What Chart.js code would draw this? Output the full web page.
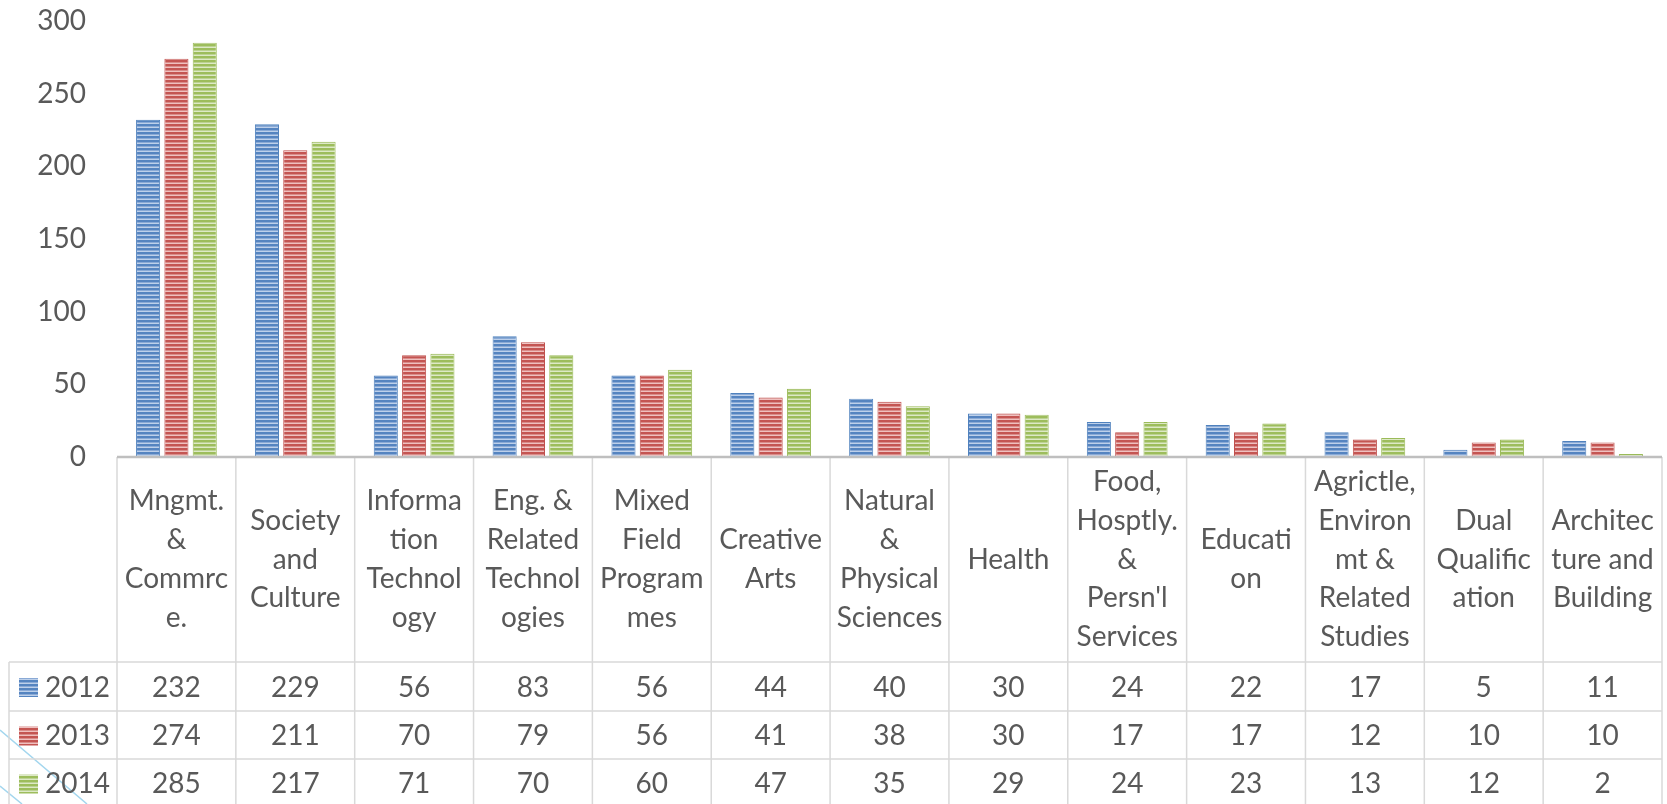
<!DOCTYPE html>
<html>
<head>
<meta charset="utf-8">
<script src="https://cdn.jsdelivr.net/npm/chart.js@4.4.0/dist/chart.umd.min.js"></script>
<style>
  html, body { margin: 0; padding: 0; background: #fff; }
  canvas { display: block; }
</style>
</head>
<body>
<canvas id="chart" width="1667" height="804"></canvas>
<script>
// data
const categories = [
  ['Mngmt.', '&', 'Commrc', 'e.'],
  ['Society', 'and', 'Culture'],
  ['Informa', 'tion', 'Technol', 'ogy'],
  ['Eng. &', 'Related', 'Technol', 'ogies'],
  ['Mixed', 'Field', 'Program', 'mes'],
  ['Creative', 'Arts'],
  ['Natural', '&', 'Physical', 'Sciences'],
  ['Health'],
  ['Food,', 'Hosptly.', '&', "Persn'l", 'Services'],
  ['Educati', 'on'],
  ['Agrictle,', 'Environ', 'mt &', 'Related', 'Studies'],
  ['Dual', 'Qualific', 'ation'],
  ['Architec', 'ture and', 'Building']
];

const seriesNames = ['2012', '2013', '2014'];
const values2012 = [232, 229, 56, 83, 56, 44, 40, 30, 24, 22, 17, 5, 11];
const values2013 = [274, 211, 70, 79, 56, 41, 38, 30, 17, 17, 12, 10, 10];
const values2014 = [285, 217, 71, 70, 60, 47, 35, 29, 24, 23, 13, 12, 2];
const yTicks = [0, 50, 100, 150, 200, 250, 300];

const FONT = 'Lato, "Open Sans", sans-serif';
const TEXT = '#595959';

// horizontal stripe fill like the office pattern
function stripes(dark, mid, light) {
  const c = document.createElement('canvas');
  c.width = 8; c.height = 4;
  const g = c.getContext('2d');
  g.fillStyle = dark; g.fillRect(0, 0, 8, 2);
  g.fillStyle = mid; g.fillRect(0, 2, 8, 1);
  g.fillStyle = light; g.fillRect(0, 3, 8, 1);
  return g.createPattern(c, 'repeat');
}

const fills = [
  stripes('#5584c0', '#8aaad6', '#bdd0ea'),
  stripes('#c45552', '#d98c8a', '#efc0bf'),
  stripes('#9dbd5c', '#bcd292', '#dde9c6')
];
const edges = ['#4f81bd', '#c0504d', '#9bbb59'];

// table under the plot
const table = {
  headerBottom: 662,
  rowBottoms: [711, 759, 807],
  legendLeft: 9,
  lineHeight: 38.7
};

const slideLines = {
  id: 'slideLines',
  beforeDraw(chart) {
    const ctx = chart.ctx;
    ctx.save();
    ctx.strokeStyle = '#a3d6ee';
    ctx.lineWidth = 1.5;
    ctx.beginPath();
    ctx.moveTo(0, 730); ctx.lineTo(87, 804);
    ctx.moveTo(0, 786); ctx.lineTo(22, 804);
    ctx.stroke();
    ctx.restore();
  }
};

const dataTable = {
  id: 'dataTable',
  afterDraw(chart) {
    const ctx = chart.ctx;
    const area = chart.chartArea;
    const x = chart.scales.x;
    const n = categories.length;
    const colW = (area.right - area.left) / n;
    const top = area.bottom;
    const bottom = table.rowBottoms[table.rowBottoms.length - 1];
    ctx.save();

    // grid
    ctx.strokeStyle = '#d9d9d9';
    ctx.lineWidth = 1.5;
    ctx.beginPath();
    for (let i = 0; i <= n; i++) {
      const px = area.left + i * colW;
      ctx.moveTo(px, top);
      ctx.lineTo(px, bottom);
    }
    ctx.moveTo(table.legendLeft, table.headerBottom);
    ctx.lineTo(table.legendLeft, bottom);
    [table.headerBottom].concat(table.rowBottoms).forEach(y => {
      ctx.moveTo(table.legendLeft, y);
      ctx.lineTo(area.right, y);
    });
    ctx.stroke();

    // axis line
    ctx.strokeStyle = '#bfbfbf';
    ctx.lineWidth = 2.5;
    ctx.beginPath();
    ctx.moveTo(area.left, top);
    ctx.lineTo(area.right, top);
    ctx.stroke();

    ctx.fillStyle = TEXT;
    ctx.font = '28px ' + FONT;
    ctx.textAlign = 'center';
    ctx.textBaseline = 'middle';

    // category header
    const headMid = (top + table.headerBottom) / 2;
    categories.forEach((lines, i) => {
      const cx = x.getPixelForValue(i);
      const y0 = headMid - (lines.length - 1) * table.lineHeight / 2;
      lines.forEach((t, j) => ctx.fillText(t, cx, y0 + j * table.lineHeight));
    });

    // value rows
    const rows = [values2012, values2013, values2014];
    let rowTop = table.headerBottom;
    rows.forEach((vals, r) => {
      const rowBottom = table.rowBottoms[r];
      const cy = (rowTop + rowBottom) / 2 + 1;
      ctx.textAlign = 'center';
      vals.forEach((v, i) => ctx.fillText(String(v), x.getPixelForValue(i), cy));
      // legend key
      ctx.fillStyle = fills[r];
      ctx.fillRect(19, cy - 9.5, 19, 19);
      ctx.fillStyle = TEXT;
      ctx.textAlign = 'left';
      ctx.fillText(seriesNames[r], 45, cy);
      rowTop = rowBottom;
    });

    ctx.restore();
  }
};

new Chart(document.getElementById('chart'), {
  type: 'bar',
  data: {
    labels: categories,
    datasets: [values2012, values2013, values2014].map((vals, i) => ({
      label: seriesNames[i],
      data: vals,
      backgroundColor: fills[i],
      borderColor: edges[i],
      borderWidth: 1,
      categoryPercentage: 0.715,
      barPercentage: 0.85
    }))
  },
  options: {
    responsive: false,
    animation: false,
    layout: { padding: { top: 21, bottom: 347, right: 5, left: 0 } },
    plugins: { legend: { display: false }, tooltip: { enabled: false } },
    scales: {
      x: { display: false },
      y: {
        min: yTicks[0],
        max: yTicks[yTicks.length - 1],
        afterBuildTicks(scale) { scale.ticks = yTicks.map(v => ({ value: v })); },
        afterFit(scale) {
          scale.width = 117;
          scale.paddingTop = 0;
          scale.paddingBottom = 0;
        },
        grid: { display: false, drawTicks: false },
        border: { display: false },
        ticks: { padding: 31, color: TEXT, font: { family: FONT, size: 28 } }
      }
    }
  },
  plugins: [slideLines, dataTable]
});
</script>
</body>
</html>
